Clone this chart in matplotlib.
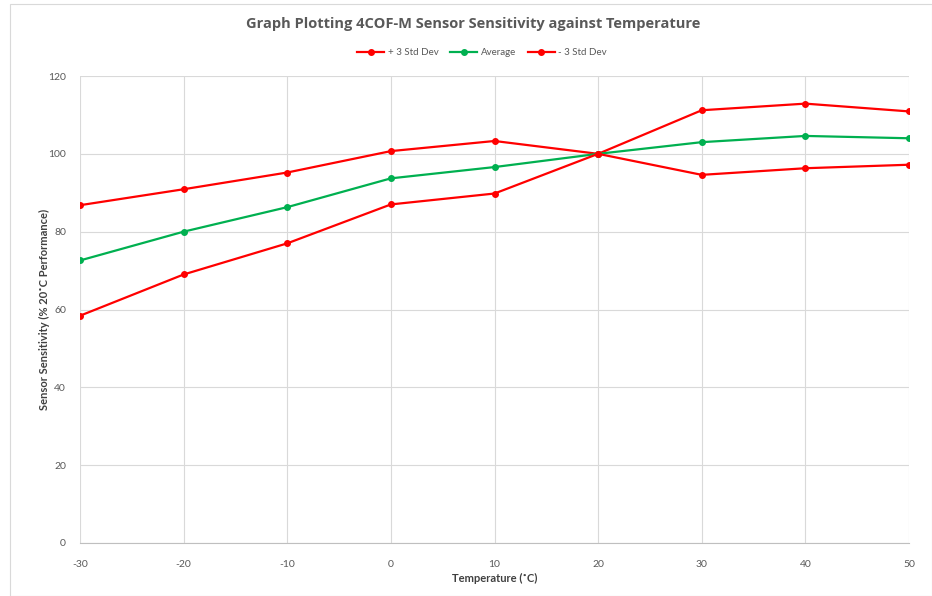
import numpy as np
import matplotlib.pyplot as plt
from matplotlib.patches import Rectangle

temperature = [-30, -20, -10, 0, 10, 20, 30, 40, 50]
plus_3sd = [86.8, 90.9, 95.2, 100.7, 103.3, 100.0, 111.2, 112.9, 110.9]
average = [72.6, 80.0, 86.3, 93.7, 96.6, 100.0, 103.0, 104.6, 104.0]
minus_3sd = [58.4, 69.0, 77.0, 87.0, 89.8, 100.0, 94.6, 96.3, 97.2]

plt.rcParams['font.family'] = ['Lato', 'DejaVu Sans']
plt.rcParams['axes.unicode_minus'] = False

fig = plt.figure(figsize=(9.32, 5.96), dpi=100)
ax = fig.add_axes([80/932, 53/596, 829/932, 467/596])

red = '#FF0000'
green = '#00B050'
ax.plot(temperature, plus_3sd, color=red, lw=1.6, marker='o', ms=4, label='+ 3 Std Dev', zorder=3)
ax.plot(temperature, average, color=green, lw=1.6, marker='o', ms=4, label='Average', zorder=3)
ax.plot(temperature, minus_3sd, color=red, lw=1.6, marker='o', ms=4, label='- 3 Std Dev', zorder=3)

ax.set_xlim(-30, 50)
ax.set_ylim(0, 120)
ax.set_xticks(range(-30, 51, 10))
ax.set_yticks(range(0, 121, 20))
ax.grid(True, color='#d9d9d9', lw=0.8)
ax.set_axisbelow(True)
for s in ['top', 'right', 'left']:
    ax.spines[s].set_visible(False)
ax.spines['bottom'].set_color('#bfbfbf')
ax.tick_params(length=0, labelsize=7.5, labelcolor='#595959')
ax.tick_params(axis='x', pad=12)
ax.tick_params(axis='y', pad=10)

ax.set_xlabel('Temperature (\u02daC)', fontsize=8, fontweight='bold', color='#404040', labelpad=3)
ax.set_ylabel('Sensor Sensitivity (% 20\u02daC Performance)', fontsize=8, fontweight='bold', color='#404040', labelpad=-1)

fig.text(0.508, 0.96, 'Graph Plotting 4COF-M Sensor Sensitivity against Temperature',
         ha='center', va='center', fontsize=10.5, fontweight='bold', color='#595959',
         family=['Open Sans', 'DejaVu Sans'])
fig.legend(loc='center', bbox_to_anchor=(0.517, 0.912), ncol=3, frameon=False,
           fontsize=7, labelcolor='#595959', handlelength=2.8, columnspacing=1.2,
           handletextpad=0.35)

fig.patches.append(Rectangle((10/932, 0), 922/932, 592/596, transform=fig.transFigure,
                             fill=False, edgecolor='#d9d9d9', lw=0.8))

fig.savefig('out.png', dpi=100)
